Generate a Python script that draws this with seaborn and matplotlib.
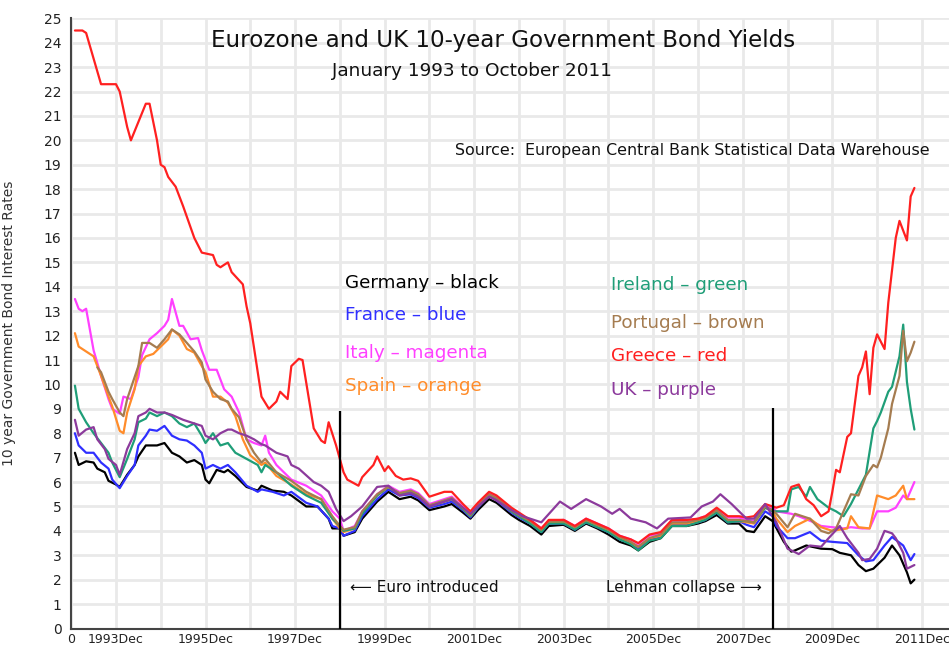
import matplotlib
matplotlib.use("Agg")
import matplotlib.pyplot as plt
import pandas as pd
import seaborn as sns

# ---------------- data (month index: 1 = Jan 1993) ----------------
euro_months = [76, 78, 82, 85, 88, 91, 93, 96, 100, 102, 105, 107, 109, 112, 114, 118, 120, 123, 126, 128,
               132, 135, 138, 141, 144, 147, 150, 152, 155, 158, 161, 165, 168, 170, 173, 176, 179, 181, 183, 186, 188]

germany_months = [1, 2, 4, 6, 7, 9, 10, 12, 13, 15, 17, 18, 20, 23, 25, 27, 29, 31, 33, 35,
                  36, 37, 39, 41, 42, 44, 47, 50, 51, 54, 57, 59, 63, 66, 69, 70, 72, 73] + euro_months + \
                 [191, 193, 194, 197, 201, 204, 206, 209, 211, 213, 215, 218, 220, 222, 224, 225, 226]
germany_yields = [7.2, 6.7, 6.85, 6.8, 6.55, 6.4, 6.05, 5.9, 5.8, 6.3, 6.7, 7.05, 7.5, 7.5, 7.6, 7.2, 7.05, 6.8, 6.9, 6.7,
                  6.1, 5.95, 6.5, 6.4, 6.5, 6.25, 5.8, 5.65, 5.85, 5.65, 5.6, 5.45, 5.0, 5.0, 4.5, 4.1, 4.1, 3.8,
                  3.95, 4.5, 5.2, 5.6, 5.3, 5.4, 5.25, 4.85, 5.0, 5.1, 4.75, 4.5, 4.85, 5.3, 5.15, 4.65, 4.45, 4.2, 3.85, 4.2,
                  4.25, 4.0, 4.3, 4.1, 3.85, 3.55, 3.4, 3.2, 3.55, 3.7, 4.2, 4.2, 4.3, 4.4, 4.65, 4.3, 4.3, 4.0, 3.95, 4.6, 4.4,
                  3.55, 3.15, 3.2, 3.4, 3.27, 3.25, 3.1, 3.0, 2.6, 2.35, 2.45, 2.9, 3.4, 3.0, 2.3, 1.85, 2.0]

france_months = [1, 2, 4, 6, 8, 10, 11, 13, 15, 17, 18, 20, 21, 23, 25, 27, 29, 31, 33, 35,
                 36, 38, 40, 42, 44, 47, 50, 51, 54, 57, 59, 63, 66, 69, 70, 72, 73] + euro_months + \
                [189, 192, 194, 198, 201, 204, 208, 211, 213, 215, 218, 220, 223, 225, 226]
france_yields = [8.0, 7.5, 7.2, 7.2, 6.8, 6.55, 6.1, 5.75, 6.25, 6.7, 7.5, 7.9, 8.15, 8.1, 8.3, 7.9, 7.75, 7.7, 7.5, 7.2,
                 6.55, 6.7, 6.55, 6.7, 6.4, 5.85, 5.6, 5.7, 5.6, 5.45, 5.6, 5.15, 5.0, 4.5, 4.2, 4.1, 3.8,
                 4.0, 4.6, 5.3, 5.7, 5.45, 5.5, 5.35, 4.95, 5.1, 5.2, 4.85, 4.55, 4.95, 5.45, 5.25, 4.75, 4.55, 4.3, 3.95, 4.3,
                 4.3, 4.05, 4.35, 4.15, 3.95, 3.65, 3.5, 3.3, 3.65, 3.75, 4.25, 4.25, 4.35, 4.45, 4.75, 4.35, 4.4, 4.25, 4.15, 4.8, 4.6,
                 4.2, 3.7, 3.7, 3.95, 3.6, 3.55, 3.5, 3.0, 2.75, 2.8, 3.4, 3.75, 3.4, 2.8, 3.05]

italy_months = [1, 2, 3, 4, 6, 8, 10, 11, 13, 14, 16, 18, 19, 21, 23, 25, 26, 27, 29, 30,
                32, 34, 35, 37, 39, 41, 43, 45, 47, 49, 51, 52, 53, 55, 57, 59, 63, 67, 70, 72, 73] + euro_months + \
               [189, 193, 195, 199, 201, 204, 207, 209, 212, 214, 216, 219, 221, 223, 224, 226]
italy_yields = [13.5, 13.1, 13.0, 13.1, 11.4, 10.35, 9.4, 9.0, 8.8, 9.5, 9.4, 10.3, 11.2, 11.85, 12.1, 12.4, 12.65, 13.5, 12.4, 12.4,
                11.85, 11.9, 11.4, 10.6, 10.6, 9.8, 9.5, 8.85, 7.75, 7.6, 7.5, 7.9, 7.2, 6.7, 6.4, 6.1, 5.85, 5.45, 4.8, 4.5, 4.0,
                4.2, 4.8, 5.5, 5.85, 5.6, 5.7, 5.55, 5.1, 5.3, 5.4, 5.0, 4.7, 5.05, 5.55, 5.4, 4.9, 4.7, 4.45, 4.1, 4.4,
                4.45, 4.2, 4.5, 4.3, 4.1, 3.8, 3.65, 3.45, 3.8, 3.9, 4.4, 4.4, 4.5, 4.6, 4.9, 4.55, 4.55, 4.45, 4.4, 5.0, 4.95,
                4.8, 4.7, 4.6, 4.35, 4.2, 4.15, 4.1, 4.15, 4.1, 4.1, 4.8, 4.8, 4.95, 5.45, 5.3, 6.0]

spain_months = [1, 2, 4, 6, 8, 10, 11, 13, 14, 15, 17, 18, 20, 22, 24, 26, 27, 29, 31, 33,
                35, 36, 38, 40, 42, 44, 46, 48, 51, 52, 55, 59, 63, 67, 70, 72, 73] + euro_months + \
               [189, 192, 194, 198, 201, 204, 208, 209, 211, 214, 216, 219, 221, 223, 224, 226]
spain_yields = [12.1, 11.55, 11.35, 11.15, 10.35, 9.5, 9.1, 8.1, 8.0, 8.85, 9.8, 10.75, 11.15, 11.25, 11.55, 11.85, 12.25, 12.0, 11.45, 11.3,
                10.75, 10.5, 9.5, 9.5, 9.25, 8.7, 7.75, 7.1, 6.7, 6.8, 6.25, 5.9, 5.5, 5.3, 4.5, 4.1, 3.95,
                4.1, 4.75, 5.45, 5.8, 5.5, 5.6, 5.45, 5.0, 5.2, 5.3, 4.9, 4.6, 5.0, 5.45, 5.3, 4.8, 4.6, 4.35, 4.0, 4.35,
                4.35, 4.1, 4.4, 4.2, 4.0, 3.7, 3.5, 3.35, 3.7, 3.8, 4.3, 4.3, 4.4, 4.5, 4.8, 4.4, 4.4, 4.35, 4.3, 4.95, 4.8,
                4.5, 3.95, 4.2, 4.5, 4.15, 4.0, 4.1, 4.6, 4.15, 4.1, 5.45, 5.3, 5.45, 5.85, 5.3, 5.3]

ireland_months = [1, 2, 4, 6, 8, 10, 11, 13, 15, 17, 18, 20, 21, 23, 25, 27, 29, 31, 33, 35,
                  36, 38, 40, 42, 44, 47, 50, 51, 52, 55, 59, 63, 67, 70, 72, 73] + euro_months + \
                 [189, 192, 193, 195, 197, 198, 200, 203, 205, 207, 209, 211, 213, 215, 216, 217, 219, 220, 222, 223, 224, 225, 226]
ireland_yields = [9.95, 9.0, 8.45, 8.0, 7.6, 7.2, 6.8, 6.2, 6.95, 7.75, 8.45, 8.6, 8.85, 8.7, 8.85, 8.7, 8.4, 8.25, 8.4, 7.9,
                  7.6, 8.0, 7.5, 7.6, 7.2, 6.95, 6.7, 6.4, 6.7, 6.4, 5.85, 5.45, 5.15, 4.5, 4.2, 4.0,
                  4.1, 4.7, 5.45, 5.8, 5.5, 5.6, 5.45, 5.0, 5.2, 5.3, 4.9, 4.6, 5.0, 5.45, 5.3, 4.8, 4.6, 4.3, 3.95, 4.3,
                  4.3, 4.05, 4.35, 4.15, 3.95, 3.65, 3.45, 3.2, 3.6, 3.7, 4.2, 4.2, 4.35, 4.45, 4.75, 4.35, 4.4, 4.4, 4.35, 4.95, 4.8,
                  4.8, 4.8, 5.7, 5.8, 5.4, 5.8, 5.3, 4.95, 4.8, 4.6, 5.1, 5.7, 6.3, 8.2, 8.5, 8.85, 9.7, 9.9, 11.15, 12.45, 10.1, 9.0, 8.15]

portugal_months = [7, 8, 10, 11, 13, 14, 15, 18, 19, 21, 23, 25, 27, 29, 31, 33, 35, 36, 38, 40,
                   42, 43, 45, 47, 49, 51, 52, 55, 59, 63, 67, 70, 72, 73] + euro_months + \
                  [189, 192, 194, 198, 201, 203, 205, 207, 209, 211, 213, 215, 216, 217, 218, 219, 220, 222, 223, 224, 225, 226]
portugal_yields = [10.7, 10.5, 9.7, 9.4, 8.85, 8.7, 9.4, 10.75, 11.7, 11.7, 11.5, 11.85, 12.25, 12.05, 11.7, 11.35, 10.9, 10.2, 9.7, 9.4,
                   9.3, 9.0, 8.65, 7.75, 7.2, 6.8, 6.95, 6.4, 6.05, 5.6, 5.3, 4.6, 4.2, 4.05,
                   4.15, 4.8, 5.5, 5.8, 5.55, 5.65, 5.5, 5.05, 5.25, 5.35, 4.95, 4.65, 5.05, 5.5, 5.35, 4.85, 4.65, 4.4, 4.05, 4.4,
                   4.4, 4.15, 4.45, 4.25, 4.05, 3.75, 3.55, 3.35, 3.7, 3.85, 4.35, 4.35, 4.45, 4.55, 4.85, 4.45, 4.45, 4.4, 4.35, 5.0, 4.85,
                   4.7, 4.15, 4.7, 4.5, 4.0, 3.9, 4.1, 4.8, 5.5, 5.45, 6.25, 6.7, 6.6, 7.0, 7.6, 8.2, 9.2, 10.35, 12.2, 10.95, 11.3, 11.75]

greece_months = [1, 3, 4, 8, 12, 13, 15, 16, 20, 21, 23, 24, 25, 26, 28, 30, 33, 35, 38, 39,
                 40, 42, 43, 46, 47, 48, 51, 53, 55, 56, 58, 59, 61, 62, 65, 67, 68, 69, 71, 73,
                 74, 77, 78, 81, 82, 84, 85, 87, 89, 91, 93, 96, 100, 102, 105, 107, 109, 112, 114, 118,
                 120, 123, 126, 128, 132, 135, 138, 141, 144, 147, 150, 152, 155, 158, 161, 165, 168, 170, 173, 176,
                 179, 181, 183, 186, 188,
                 189, 191, 193, 195, 197, 199, 201, 203, 204, 205, 206, 208, 209, 211, 212, 213, 214, 215, 216, 218,
                 219, 221, 222, 224, 225, 226]
greece_yields = [24.5, 24.5, 24.4, 22.3, 22.3, 22.0, 20.55, 20.0, 21.5, 21.5, 20.0, 19.0, 18.9, 18.5, 18.1, 17.3, 16.0, 15.4, 15.3, 14.9,
                 14.8, 15.0, 14.6, 14.1, 13.2, 12.5, 9.5, 9.0, 9.3, 9.7, 9.4, 10.75, 11.05, 11.0, 8.2, 7.7, 7.6, 8.45, 7.5, 6.4,
                 6.1, 5.85, 6.2, 6.7, 7.05, 6.45, 6.65, 6.25, 6.1, 6.15, 6.05, 5.4, 5.6, 5.6, 5.1, 4.8, 5.15, 5.6, 5.45, 4.95,
                 4.75, 4.45, 4.1, 4.45, 4.45, 4.2, 4.5, 4.3, 4.1, 3.8, 3.65, 3.5, 3.85, 3.95, 4.45, 4.45, 4.5, 4.6, 4.95, 4.6,
                 4.6, 4.55, 4.6, 5.1, 5.0,
                 4.95, 5.05, 5.8, 5.9, 5.3, 5.05, 4.6, 4.8, 5.6, 6.5, 6.4, 7.85, 8.0, 10.35, 10.7, 11.35, 9.6, 11.5, 12.05, 11.45,
                 13.35, 16.0, 16.7, 15.9, 17.7, 18.05]

uk_months = [1, 2, 4, 6, 7, 9, 10, 12, 13, 15, 17, 18, 20, 21, 23, 25, 27, 30, 33, 35,
             36, 38, 40, 42, 43, 45, 47, 49, 51, 52, 55, 58, 59, 61, 65, 67, 69, 71, 73,
             75, 78, 82, 85, 88, 91, 93, 96, 100, 102, 105, 107, 109, 112, 114, 118, 121, 123, 126, 131,
             134, 138, 142, 145, 147, 150, 154, 157, 160, 166, 169, 172, 174, 177, 179, 181, 183, 186, 189, 192,
             193, 195, 198, 201, 203, 206, 208, 211, 212, 214, 216, 218, 220, 221, 223, 224, 226]
uk_yields = [8.55, 7.9, 8.15, 8.25, 7.75, 7.35, 6.95, 6.7, 6.3, 7.35, 8.0, 8.7, 8.85, 9.0, 8.85, 8.85, 8.75, 8.55, 8.4, 8.3,
             7.9, 7.75, 8.0, 8.15, 8.15, 8.0, 7.9, 7.75, 7.55, 7.5, 7.2, 7.05, 6.7, 6.55, 6.0, 5.85, 5.6, 4.9, 4.4,
             4.6, 5.0, 5.8, 5.85, 5.45, 5.55, 5.4, 5.0, 5.2, 5.3, 4.95, 4.7, 5.0, 5.4, 5.25, 4.85, 4.6, 4.5, 4.35, 5.2,
             4.9, 5.3, 5.0, 4.7, 4.9, 4.5, 4.35, 4.1, 4.5, 4.55, 5.0, 5.2, 5.5, 5.1, 4.8, 4.5, 4.5, 5.1, 4.35, 3.27,
             3.2, 3.05, 3.4, 3.35, 3.7, 4.2, 3.7, 3.1, 2.8, 2.85, 3.27, 4.0, 3.9, 3.7, 3.1, 2.45, 2.6]

countries = ["Germany", "France", "Italy", "Spain", "Ireland", "Portugal", "Greece", "UK"]
colour_names = ["black", "blue", "magenta", "orange", "green", "brown", "red", "purple"]
line_colours = ["#000000", "#2f2fff", "#ff40ff", "#ff8c2a", "#1f9e78", "#a57c50", "#ff2020", "#8c3a9c"]

x_ticks = list(range(0, 229, 12))
x_tick_labels = ["0", "1993Dec", "", "1995Dec", "", "1997Dec", "", "1999Dec", "", "2001Dec", "",
                 "2003Dec", "", "2005Dec", "", "2007Dec", "", "2009Dec", "", "2011Dec"]

euro_month, lehman_month = 72, 188

# ---------------- build frame ----------------
series = {
    "Germany": (germany_months, germany_yields),
    "France": (france_months, france_yields),
    "Italy": (italy_months, italy_yields),
    "Spain": (spain_months, spain_yields),
    "Ireland": (ireland_months, ireland_yields),
    "Portugal": (portugal_months, portugal_yields),
    "Greece": (greece_months, greece_yields),
    "UK": (uk_months, uk_yields),
}
frames = []
for name, (m, y) in series.items():
    frames.append(pd.DataFrame({"month": m, "yield": y, "country": name}))
df = pd.concat(frames, ignore_index=True)

# ---------------- figure ----------------
sns.set_style("white")
plt.rcParams["font.family"] = ["DejaVu Sans"]

W, H = 949, 647
fig = plt.figure(figsize=(W / 100, H / 100), dpi=100)
ax_left, ax_bottom, ax_top = 71.2, 628.5, 18.3
ax = fig.add_axes([ax_left / W, (H - ax_bottom) / H, (W - ax_left) / W, (ax_bottom - ax_top) / H])

ax.set_xlim(0, (W - ax_left) / 3.731)
ax.set_ylim(0, 25)
ax.set_xticks(x_ticks)
ax.set_xticklabels(x_tick_labels)
ax.set_yticks(range(0, 26))
ax.grid(True, color="#e9e9e9", linewidth=2.0)
ax.set_axisbelow(True)

palette = dict(zip(countries, line_colours))
sns.lineplot(data=df, x="month", y="yield", hue="country", hue_order=countries,
             palette=palette, estimator=None, linewidth=1.6, legend=False, ax=ax)

ax.vlines([euro_month, lehman_month], 0, [8.9, 9.05], color="black", linewidth=1.6, zorder=5)

for s in ["top", "right"]:
    ax.spines[s].set_visible(False)
for s in ["left", "bottom"]:
    ax.spines[s].set_color("#444444")
    ax.spines[s].set_linewidth(1.5)
ax.tick_params(axis="both", direction="inout", length=6, width=1.2, color="#444444",
               labelsize=10, labelcolor="#222222")
ax.tick_params(axis="x", pad=0.5, labelsize=9)
ax.tick_params(axis="y", pad=4)
ax.set_xlabel("")
ax.set_ylabel("10 year Government Bond Interest Rates", fontsize=10, color="#333333")
ax.yaxis.set_label_coords((16 - ax_left) / (W - ax_left), 0.5)

# titles
fig.text(503 / W, 1 - 40 / H, "Eurozone and UK 10-year Government Bond Yields",
         ha="center", va="center", fontsize=16.6, color="#111111")
fig.text(472 / W, 1 - 71 / H, "January 1993 to October 2011",
         ha="center", va="center", fontsize=13.3, color="#111111")
fig.text(455 / W, 1 - 150 / H, "Source:  European Central Bank Statistical Data Warehouse",
         ha="left", va="center", fontsize=11.4, color="#111111")

# colour key
key_pos = [(345, 288), (345, 320), (345, 358), (345, 391),
           (611, 290), (611, 328), (611, 361), (611, 395)]
for name, cname, col, (px, py) in zip(countries, colour_names, line_colours, key_pos):
    fig.text(px / W, 1 - py / H, f"{name} \u2013 {cname}", ha="left", va="baseline",
             fontsize=13.2, color=col)

# event annotations
fig.text(350 / W, 1 - 592 / H, "\u27f5 Euro introduced", ha="left", va="baseline",
         fontsize=11, color="#111111")
fig.text(762 / W, 1 - 592 / H, "Lehman collapse \u27f6", ha="right", va="baseline",
         fontsize=11, color="#111111")

fig.savefig("out.png", dpi=100)
